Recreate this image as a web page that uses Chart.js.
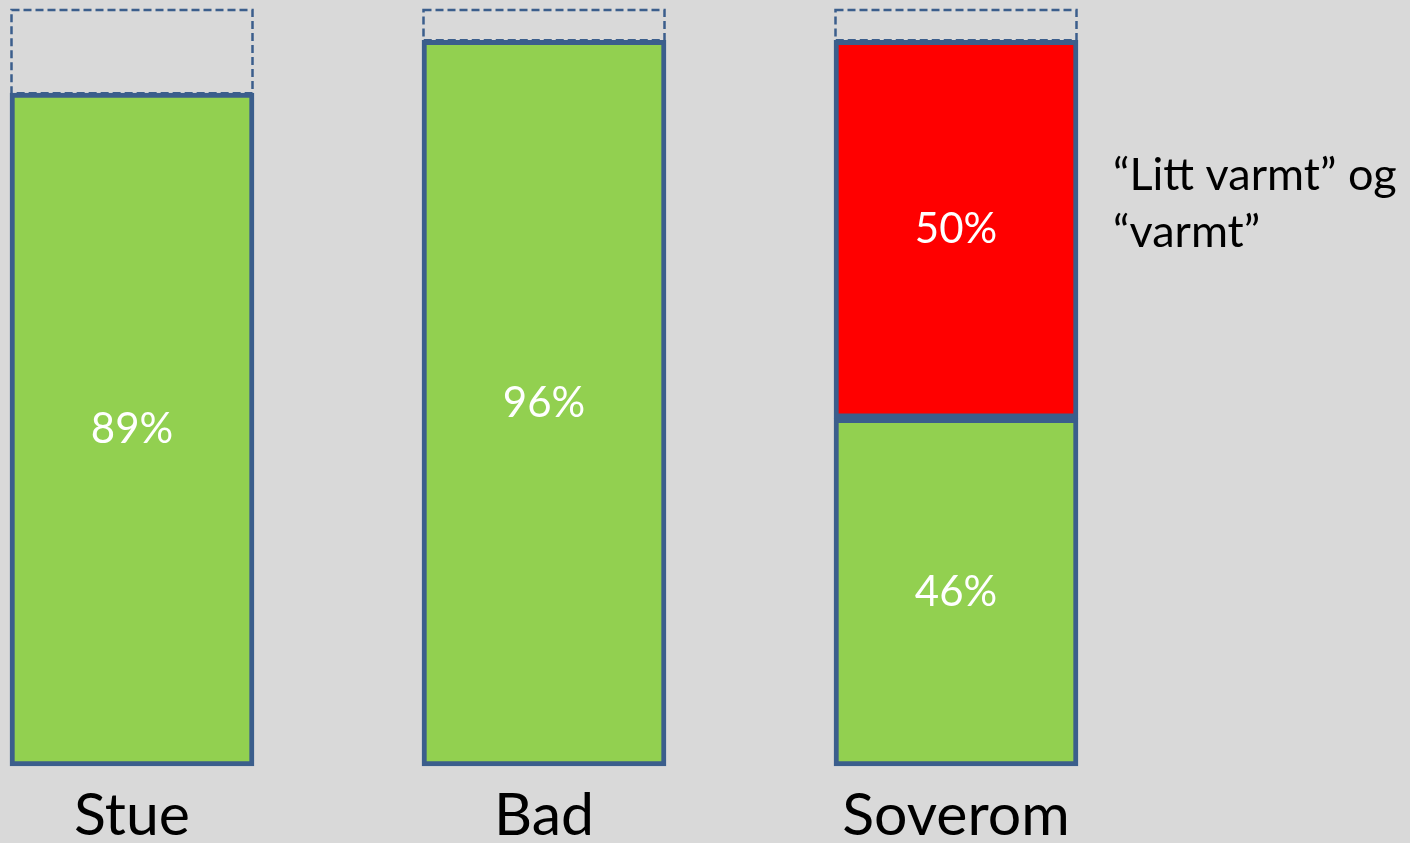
<!DOCTYPE html>
<html>
<head>
<meta charset="utf-8">
<script src="https://cdn.jsdelivr.net/npm/chart.js@4/dist/chart.umd.min.js"></script>
<style>
  html, body { margin: 0; padding: 0; background: #d9d9d9; }
  canvas { display: block; }
</style>
</head>
<body>
<canvas id="myChart" width="1410" height="843"></canvas>
<script>
// data
const rooms = ['Stue', 'Bad', 'Soverom'];
const okValues = [89, 96, 46];        // green
const warmValues = [null, null, 50];  // red: "Litt varmt" og "varmt"
const restValues = [11, 4, 4];        // up to 100%, dashed outline
const noteLines = ['\u201CLitt varmt\u201D og', '\u201Cvarmt\u201D'];

const outline = '#3b5e8c';
const fontName = 'Lato, "Open Sans", sans-serif';

// dashed outline for the empty part + white percent labels + side note
const barExtras = {
    id: 'barExtras',
    afterDatasetsDraw(chart) {
        const ctx = chart.ctx;
        ctx.save();

        // dashed boxes
        const restMeta = chart.getDatasetMeta(2);
        ctx.strokeStyle = outline;
        ctx.lineWidth = 2.5;
        ctx.setLineDash([8, 4]);
        restMeta.data.forEach(bar => {
            const left = bar.x - bar.width / 2 + 1.5;
            ctx.strokeRect(left, bar.y, bar.width - 3, bar.base - bar.y);
        });
        ctx.setLineDash([]);

        // percent labels
        ctx.fillStyle = '#ffffff';
        ctx.font = '42px ' + fontName;
        ctx.textAlign = 'center';
        ctx.textBaseline = 'middle';
        [0, 1].forEach(di => {
            const meta = chart.getDatasetMeta(di);
            const values = chart.data.datasets[di].data;
            meta.data.forEach((bar, i) => {
                if (values[i] == null) return;
                ctx.fillText(values[i] + '%', bar.x, (bar.y + bar.base) / 2);
            });
        });

        // note next to the red part
        const red = chart.getDatasetMeta(1).data[2];
        const mid = (red.y + red.base) / 2;
        ctx.fillStyle = '#000000';
        ctx.font = '45px ' + fontName;
        ctx.textAlign = 'left';
        ctx.fillText(noteLines[0], red.x + red.width / 2 + 35, mid - 54);
        ctx.fillText(noteLines[1], red.x + red.width / 2 + 35, mid + 3);

        ctx.restore();
    }
};

const ctx = document.getElementById('myChart');

new Chart(ctx, {
    type: 'bar',
    data: {
        labels: rooms,
        datasets: [
            {
                label: 'OK',
                data: okValues,
                backgroundColor: '#92d050',
                borderColor: outline,
                borderWidth: 5,
                borderSkipped: false,
                clip: false,
            },
            {
                label: 'Varmt',
                data: warmValues,
                backgroundColor: '#ff0000',
                borderColor: outline,
                borderWidth: 5,
                borderSkipped: false,
                clip: false,
            },
            {
                label: 'Rest',
                data: restValues,
                backgroundColor: 'rgba(0,0,0,0)',
                borderWidth: 0,
                clip: false,
            },
        ]
    },
    options: {
        responsive: false,
        animation: false,
        barThickness: 244,
        layout: {
            padding: { left: 132, right: 454, top: 10, bottom: 0 }
        },
        plugins: {
            legend: { display: false },
            tooltip: { enabled: false },
        },
        scales: {
            x: {
                stacked: true,
                offset: false,
                grid: { display: false, drawTicks: false },
                border: { display: false },
                ticks: {
                    color: '#000000',
                    padding: 20,
                    font: { family: fontName, size: 59, lineHeight: 1.0 },
                },
                afterFit(scale) {
                    scale.height = 77;
                },
            },
            y: {
                stacked: true,
                display: false,
                min: 0,
                max: 100,
            }
        }
    },
    plugins: [barExtras],
});
</script>
</body>
</html>
